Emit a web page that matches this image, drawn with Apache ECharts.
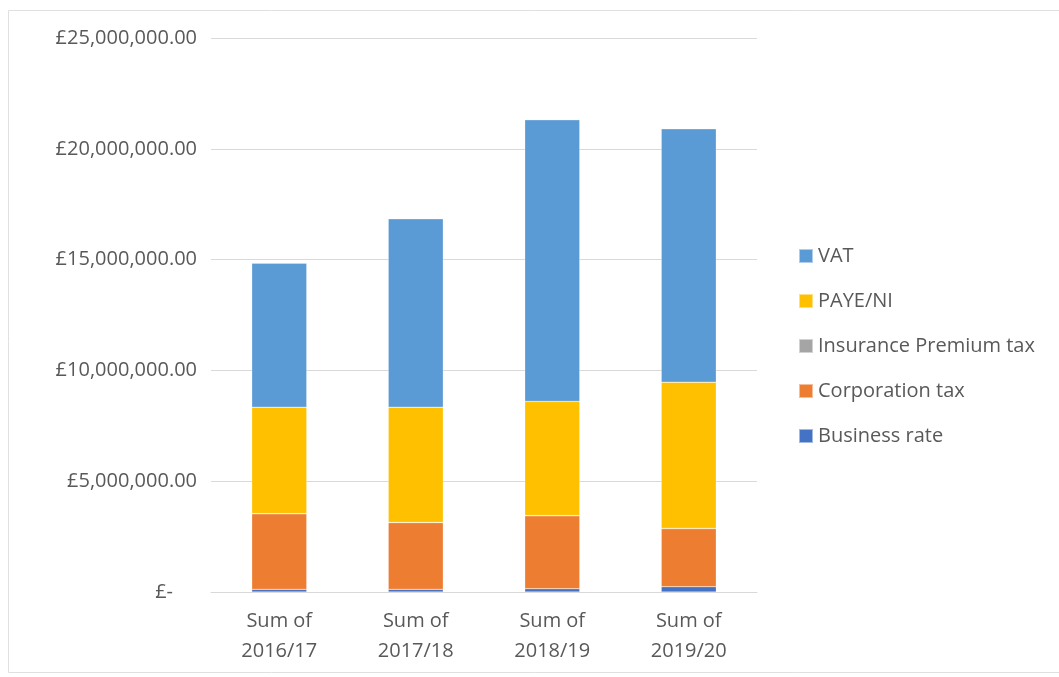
<!DOCTYPE html>
<html>
<head>
<meta charset="utf-8">
<script src="https://cdn.jsdelivr.net/npm/echarts@6/dist/echarts.min.js"></script>
<style>html,body{margin:0;padding:0;background:#fff}#c{width:1059px;height:677px}</style>
</head>
<body>
<div id="c"></div>
<script>
const categories = ['Sum of\n2016/17', 'Sum of\n2017/18', 'Sum of\n2018/19', 'Sum of\n2019/20'];
const businessRate = [120000, 120000, 150000, 240000];
const corporationTax = [3410000, 3010000, 3290000, 2620000];
const insurancePremiumTax = [10000, 10000, 10000, 10000];
const payeNi = [4800000, 5200000, 5150000, 6600000];
const vat = [6500000, 8500000, 12710000, 11430000];
const legendOrder = ['VAT', 'PAYE/NI', 'Insurance Premium tax', 'Corporation tax', 'Business rate'];

const FONT = 'Open Sans';
const TXT = '#595959';
const FS = 20;

function fmt(v) {
  if (v === 0) return '{z|£-}';
  return '£' + v.toLocaleString('en-GB', {minimumFractionDigits: 2, maximumFractionDigits: 2});
}

const chart = echarts.init(document.getElementById('c'));
function bar(name, data, color) {
  return {name, type: 'bar', stack: 'total', data, barWidth: 55,
    itemStyle: {color, borderColor: 'rgba(255,255,255,0.5)', borderWidth: 0.5}};
}
chart.setOption({
  animation: false,
  textStyle: {fontFamily: FONT},
  graphic: [{type: 'rect', shape: {x: 8.5, y: 10.5, width: 1060, height: 662},
    style: {fill: 'none', stroke: '#E0E0E0', lineWidth: 1}, silent: true}],
  grid: {left: 211, right: 302, top: 38, bottom: 85},
  legend: {
    orient: 'vertical', left: 793, top: 241, itemWidth: 14, itemHeight: 14, itemGap: 25,
    icon: 'rect', data: legendOrder,
    textStyle: {fontFamily: FONT, fontSize: FS, color: TXT}
  },
  xAxis: {
    type: 'category', data: categories,
    axisLine: {lineStyle: {color: '#D9D9D9', width: 1}},
    axisTick: {show: false},
    axisLabel: {fontFamily: FONT, fontSize: FS, color: TXT, lineHeight: 30, margin: 14}
  },
  yAxis: {
    type: 'value', min: 0, max: 25000000, interval: 5000000,
    axisLine: {show: false}, axisTick: {show: false},
    splitLine: {lineStyle: {color: '#D9D9D9', width: 1}},
    axisLabel: {formatter: fmt, fontFamily: FONT, fontSize: FS, color: TXT, margin: 14,
      rich: {z: {fontFamily: FONT, fontSize: FS, color: TXT, padding: [0, 24, 0, 0]}}}
  },
  series: [
    bar('Business rate', businessRate, '#4472C4'),
    bar('Corporation tax', corporationTax, '#ED7D31'),
    bar('Insurance Premium tax', insurancePremiumTax, '#A5A5A5'),
    bar('PAYE/NI', payeNi, '#FFC000'),
    bar('VAT', vat, '#5B9BD5')
  ]
});
</script>
</body>
</html>
